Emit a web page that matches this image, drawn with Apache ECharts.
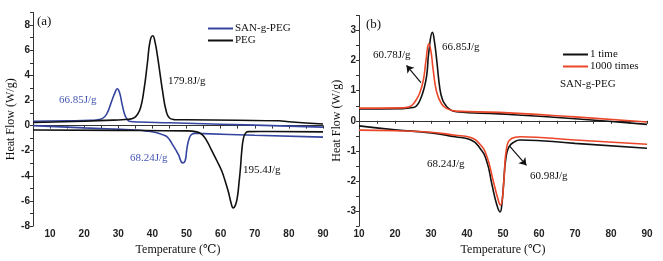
<!DOCTYPE html>
<html>
<head>
<meta charset="utf-8">
<script src="https://cdn.jsdelivr.net/npm/echarts@6/dist/echarts.min.js"></script>
<style>
  html, body { margin: 0; padding: 0; background: #fff; }
  #chart { width: 663px; height: 261px; }
</style>
</head>
<body>
<div id="chart"></div>
<script>
// (a) SAN-g-PEG vs PEG, cooling (upper) and heating (lower)
const sanCoolT = [5, 15, 22, 24.5, 26, 27, 28, 29, 29.7, 30.4, 31, 31.8, 32.6, 33.5, 36, 45, 60, 75, 90];
const sanCoolV = [0.35, 0.38, 0.42, 0.48, 0.7, 1.15, 1.9, 2.6, 2.93, 2.6, 1.85, 0.95, 0.5, 0.32, 0.28, 0.22, 0.11, 0.0, -0.12];
const pegCoolT = [5, 20, 30, 33, 34.5, 35.5, 36.5, 37.5, 38.5, 39.3, 40.1, 40.8, 41.5, 42.3, 43, 44, 45, 46.5, 50, 65, 77, 80, 90];
const pegCoolV = [0.25, 0.35, 0.45, 0.5, 0.6, 0.85, 1.4, 2.8, 4.9, 6.7, 7.15, 6.6, 5.5, 4.0, 2.7, 1.2, 0.6, 0.47, 0.46, 0.42, 0.38, 0.3, 0.12];
const sanHeatT = [5, 20, 35, 38, 41, 43.2, 44.5, 46.1, 47.6, 48.9, 49.6, 50.1, 50.8, 51.5, 52.5, 55, 70, 90];
const sanHeatV = [0, -0.18, -0.35, -0.42, -0.55, -0.75, -0.95, -1.6, -2.3, -2.97, -2.8, -1.85, -1.0, -0.7, -0.62, -0.64, -0.77, -0.92];
const pegHeatT = [5, 30, 50, 53, 54.5, 55.9, 57.4, 58.9, 60.3, 61.3, 62.3, 63, 63.7, 64.3, 64.9, 65.4, 65.8, 66.2, 66.7, 67.3, 68, 75, 90];
const pegHeatV = [-0.35, -0.38, -0.42, -0.5, -0.7, -1.2, -2.0, -2.8, -3.6, -4.4, -5.3, -6.1, -6.55, -6.35, -5.7, -4.5, -3.4, -2.0, -1.0, -0.6, -0.48, -0.47, -0.5];

// (b) SAN-g-PEG after 1 and 1000 cycles
const oneCoolT = [10, 22, 25, 26, 27, 28, 28.8, 29.4, 30.4, 31, 31.6, 32.5, 33.2, 33.9, 35, 37, 49, 70, 90];
const oneCoolV = [0.39, 0.4, 0.44, 0.5, 0.7, 1.05, 1.5, 2.3, 2.94, 2.6, 2.0, 1.04, 0.7, 0.55, 0.4, 0.3, 0.23, 0.07, -0.12];
const kCoolT = [10, 22, 24, 25, 26, 26.9, 27.9, 28.6, 29.4, 30, 30.6, 31.6, 33, 34.5, 37, 49, 70, 90];
const kCoolV = [0.42, 0.43, 0.47, 0.55, 0.72, 0.93, 1.37, 2.0, 2.56, 2.3, 1.7, 0.94, 0.55, 0.4, 0.32, 0.28, 0.13, -0.04];
const oneHeatT = [10, 20, 30, 36.7, 40.8, 43.6, 45.5, 46.9, 48.3, 49.2, 49.7, 50.1, 50.8, 51.7, 53.3, 54.7, 70, 90];
const oneHeatV = [-0.17, -0.3, -0.4, -0.53, -0.62, -0.91, -1.35, -2.1, -2.8, -3.03, -2.75, -2.2, -1.24, -0.86, -0.69, -0.64, -0.75, -0.91];
const kHeatT = [10, 20, 30, 36.7, 40.8, 43.6, 45.5, 47.3, 48.6, 49.3, 49.8, 50.3, 51, 52.4, 54.7, 70, 90];
const kHeatV = [-0.31, -0.33, -0.38, -0.48, -0.55, -0.78, -1.18, -2.0, -2.6, -2.8, -2.6, -1.9, -0.91, -0.59, -0.53, -0.64, -0.78];

const pairs = (t, v) => t.map((x, i) => [x, v[i]]);

const blue = '#34449f';
const blueText = '#4457b3';
const red = '#ec4628';
const black = '#111';
const serif = '"Liberation Serif", "DejaVu Serif", serif';

let chart = echarts.init(document.getElementById('chart'));

function line(name, t, v, color, xi) {
    return {
        name: name,
        type: 'line',
        xAxisIndex: xi,
        yAxisIndex: xi,
        data: pairs(t, v),
        symbol: 'none',
        smooth: 0.5,
        lineStyle: { color: color, width: 1.6 },
        itemStyle: { color: color },
        z: 3
    };
}

function xAxis(gi, min, max) {
    return {
        type: 'value',
        gridIndex: gi,
        min: min,
        max: max,
        interval: 5,
        name: 'Temperature (℃)',
        nameLocation: 'middle',
        nameGap: 16,
        nameTextStyle: { fontFamily: serif, fontSize: 12, color: '#111' },
        axisLine: { lineStyle: { color: '#333', width: 1 } },
        axisTick: { show: true, length: 3, lineStyle: { color: '#333' } },
        axisLabel: {
            margin: 3,
            fontFamily: 'Liberation Sans, Arial, sans-serif',
            fontSize: 10,
            fontWeight: 'bold',
            color: '#222',
            formatter: v => (v % 10 === 0 ? String(v) : '')
        },
        splitLine: { show: false }
    };
}

function yAxis(gi, min, max, step, show) {
    return {
        type: 'value',
        gridIndex: gi,
        min: min,
        max: max,
        interval: step,
        name: 'Heat Flow (W/g)',
        nameLocation: 'middle',
        nameGap: gi === 0 ? 15 : 13,
        nameRotate: 90,
        nameTextStyle: { fontFamily: serif, fontSize: 12, color: '#111' },
        axisLine: { show: true, lineStyle: { color: '#333', width: 1 } },
        axisTick: { show: true, length: 3, lineStyle: { color: '#333' } },
        axisLabel: {
            margin: 3,
            fontFamily: 'Liberation Sans, Arial, sans-serif',
            fontSize: 10,
            fontWeight: 'bold',
            color: '#222',
            formatter: show
        },
        splitLine: { show: false }
    };
}

function note(x, y, text, color, size) {
    return {
        type: 'text',
        x: x,
        y: y,
        style: {
            text: text,
            fill: color || black,
            font: (size || 11) + 'px ' + serif,
            verticalAlign: 'middle'
        },
        z: 10
    };
}

const arrow = (from, to) => ({
    silent: true,
    symbol: ['none', 'arrow'],
    symbolSize: 7,
    label: { show: false },
    lineStyle: { color: black, width: 1.2, type: 'solid' },
    data: [[{ coord: from }, { coord: to }]]
});

const legendText = { fontFamily: serif, fontSize: 11, color: '#111', padding: [0, 0, 0, -3] };

const option = {
    animation: false,
    backgroundColor: '#fff',
    grid: [
        { left: 33, top: 12.5, width: 290, height: 217.5 },
        { left: 359, top: 15.5, width: 288, height: 214.5 }
    ],
    xAxis: [xAxis(0, 5, 90), xAxis(1, 10, 90)],
    yAxis: [
        yAxis(0, -8, 9, 1, v => (v % 2 === 0 ? String(v) : '')),
        yAxis(1, -3.5, 3.5, 0.5, v => (Number.isInteger(v) ? String(v) : ''))
    ],
    legend: [
        {
            data: ['SAN-g-PEG', 'PEG'],
            orient: 'vertical',
            left: 203,
            top: 18,
            icon: 'rect',
            itemWidth: 25,
            itemHeight: 2,
            itemGap: 1,
            textStyle: legendText
        },
        {
            data: ['1 time', '1000 times'],
            orient: 'vertical',
            left: 558,
            top: 44,
            icon: 'rect',
            itemWidth: 25,
            itemHeight: 2,
            itemGap: 1,
            textStyle: legendText
        }
    ],
    series: [
        line('SAN-g-PEG', sanCoolT, sanCoolV, blue, 0),
        line('SAN-g-PEG', sanHeatT, sanHeatV, blue, 0),
        line('PEG', pegCoolT, pegCoolV, black, 0),
        line('PEG', pegHeatT, pegHeatV, black, 0),
        Object.assign(line('1 time', oneCoolT, oneCoolV, black, 1), {
            markLine: arrow([27.2, 1.27], [23.2, 1.84])
        }),
        Object.assign(line('1 time', oneHeatT, oneHeatV, black, 1), {
            markLine: arrow([51.9, -0.85], [56.5, -1.48])
        }),
        line('1000 times', kCoolT, kCoolV, red, 1),
        line('1000 times', kHeatT, kHeatV, red, 1)
    ],
    graphic: [
        note(37, 22, '(a)', black, 13),
        note(59, 100, '66.85J/g', blueText),
        note(168, 81, '179.8J/g'),
        note(130, 158, '68.24J/g', blueText),
        note(243, 170, '195.4J/g'),
        note(366, 25, '(b)', black, 13),
        note(442, 47, '66.85J/g'),
        note(373, 55, '60.78J/g'),
        note(560, 84, 'SAN-g-PEG'),
        note(427, 164, '68.24J/g'),
        note(530, 176, '60.98J/g')
    ]
};

chart.setOption(option);

window.addEventListener('resize', function () {
    chart.resize();
});
</script>
</body>
</html>
